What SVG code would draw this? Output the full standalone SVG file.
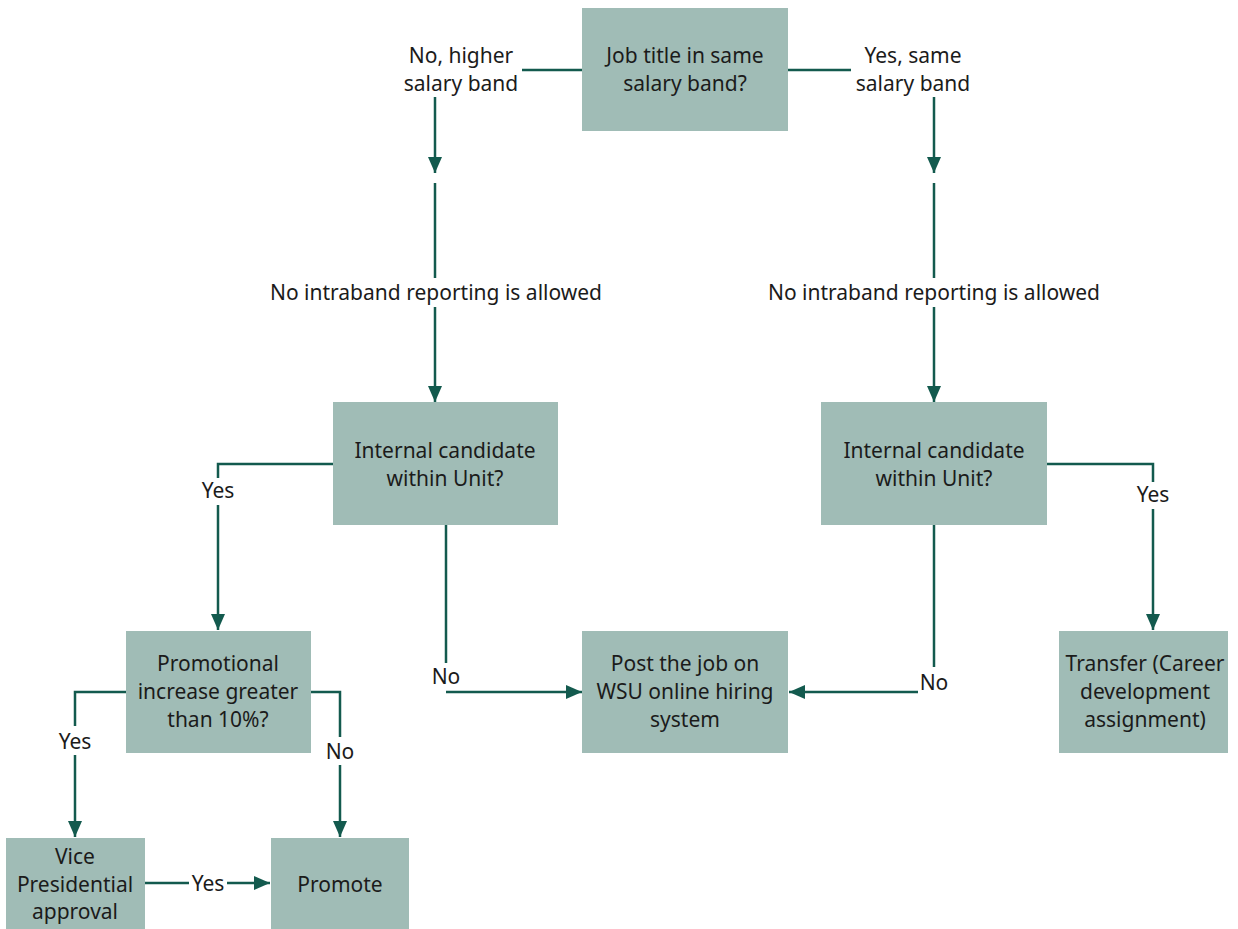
<svg xmlns="http://www.w3.org/2000/svg" width="1238" height="929" viewBox="0 0 1238 929">
<defs>
<style>
.box{fill:#a0bcb6;}
.t{font-family:"Noto Sans","Liberation Sans",sans-serif;font-size:21px;fill:#1b1b1b;text-anchor:middle;}
.c{fill:none;stroke:#135a4e;stroke-width:2.5;}
.a{marker-end:url(#ah);}
</style>
<marker id="ah" markerUnits="userSpaceOnUse" markerWidth="16" markerHeight="16" viewBox="0 0 16 16" refX="16" refY="8" orient="auto">
<path d="M0,1 L16,8 L0,15 Z" fill="#135a4e"/>
</marker>
</defs>
<rect width="1238" height="929" fill="#ffffff"/>
<g id="connectors">
<path class="c" d="M582,70 H522"/>
<path class="c a" d="M435,97 V173"/>
<path class="c" d="M435,183 V278"/>
<path class="c a" d="M435,307 V402"/>
<path class="c" d="M788,70 H851"/>
<path class="c a" d="M934,97 V173"/>
<path class="c" d="M934,183 V278"/>
<path class="c a" d="M934,307 V402"/>
<path class="c" d="M333,464 H218 V478"/>
<path class="c a" d="M218,505 V630"/>
<path class="c" d="M446,525 V663"/>
<path class="c a" d="M446,692 H582"/>
<path class="c" d="M1047,464 H1153 V482"/>
<path class="c a" d="M1153,509 V630"/>
<path class="c" d="M934,525 V667"/>
<path class="c a" d="M918,692 H789"/>
<path class="c" d="M126,692 H75 V726"/>
<path class="c a" d="M75,755 V837"/>
<path class="c" d="M311,692 H340 V737"/>
<path class="c a" d="M340,765 V837"/>
<path class="c" d="M145,883 H189"/>
<path class="c a" d="M227,883 H270"/>
<text class="t" x="461" y="63">No, higher</text>
<text class="t" x="461" y="91">salary band</text>
<text class="t" x="913" y="63">Yes, same</text>
<text class="t" x="913" y="91">salary band</text>
<text class="t" x="436" y="300">No intraband reporting is allowed</text>
<text class="t" x="934" y="300">No intraband reporting is allowed</text>
<text class="t" x="218" y="498">Yes</text>
<text class="t" x="446" y="684">No</text>
<text class="t" x="1153" y="502">Yes</text>
<text class="t" x="934" y="690">No</text>
<text class="t" x="75" y="749">Yes</text>
<text class="t" x="340" y="759">No</text>
<text class="t" x="208" y="891">Yes</text>
</g>
<g id="n-jobtitle">
<rect class="box" x="582" y="8" width="206" height="123"/>
<text class="t" x="685" y="63">Job title in same</text>
<text class="t" x="685" y="91">salary band?</text>
</g>
<g id="n-internal-left">
<rect class="box" x="333" y="402" width="225" height="123"/>
<text class="t" x="445" y="458">Internal candidate</text>
<text class="t" x="445" y="486">within Unit?</text>
</g>
<g id="n-internal-right">
<rect class="box" x="821" y="402" width="226" height="123"/>
<text class="t" x="934" y="458">Internal candidate</text>
<text class="t" x="934" y="486">within Unit?</text>
</g>
<g id="n-promotional">
<rect class="box" x="126" y="631" width="185" height="122"/>
<text class="t" x="218" y="671">Promotional</text>
<text class="t" x="218" y="699">increase greater</text>
<text class="t" x="218" y="727">than 10%?</text>
</g>
<g id="n-post">
<rect class="box" x="582" y="631" width="206" height="122"/>
<text class="t" x="685" y="671">Post the job on</text>
<text class="t" x="685" y="699">WSU online hiring</text>
<text class="t" x="685" y="727">system</text>
</g>
<g id="n-transfer">
<rect class="box" x="1059" y="631" width="169" height="122"/>
<text class="t" x="1145" y="671">Transfer (Career</text>
<text class="t" x="1145" y="699">development</text>
<text class="t" x="1145" y="727">assignment)</text>
</g>
<g id="n-vp">
<rect class="box" x="6" y="838" width="139" height="91"/>
<text class="t" x="75" y="864">Vice</text>
<text class="t" x="75" y="892">Presidential</text>
<text class="t" x="75" y="919">approval</text>
</g>
<g id="n-promote">
<rect class="box" x="271" y="838" width="138" height="91"/>
<text class="t" x="340" y="892">Promote</text>
</g>
</svg>
